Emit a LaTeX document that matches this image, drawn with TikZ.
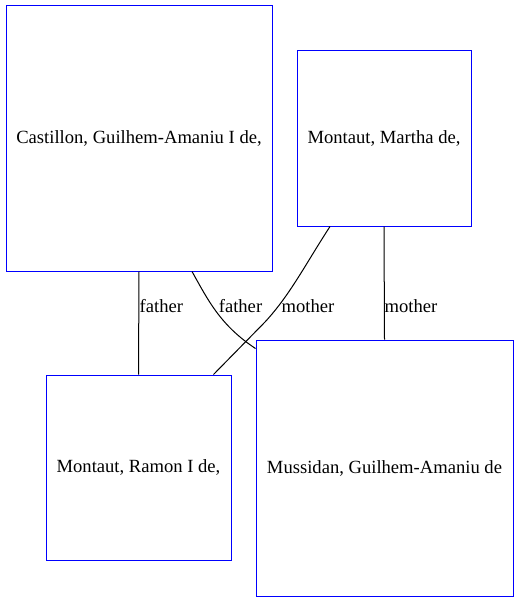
\documentclass[tikz,border=0pt]{standalone}
\usepackage{fontspec}
\setmainfont{Liberation Serif}
\begin{document}
\begin{tikzpicture}[x=1pt,y=-1pt,
  person/.style={draw=blue,line width=1pt,inner sep=0pt,font=\fontsize{18.6}{21}\selectfont},
  rel/.style={draw=black,line width=1pt},
  lbl/.style={inner sep=0pt,font=\fontsize{18.6}{21}\selectfont}]
\useasboundingbox (0,0) rectangle (518,602);
\node[person,minimum width=266pt,minimum height=265pt] (cast) at (139,138.5) {Castillon, Guilhem-Amaniu I de,};
\node[person,minimum width=174pt,minimum height=175pt] (martha) at (384,138.5) {Montaut, Martha de,};
\node[person,minimum width=185pt,minimum height=185pt] (ramon) at (138.5,467.5) {Montaut, Ramon I de,};
\node[person,minimum width=257pt,minimum height=256pt] (muss) at (384.5,468) {Mussidan, Guilhem-Amaniu de};
\draw[rel] (cast.south) -- (ramon.north);
\draw[rel] ([xshift=53pt]cast.south) .. controls (208,300) and (220,325) .. ([yshift=-9pt]muss.north west);
\draw[rel] ([xshift=-54pt]martha.south) .. controls (305,265) and (290,295) .. (265,322) -- ([xshift=168pt]ramon.north west);
\draw[rel] (martha.south) -- (muss.north);
\node[lbl,anchor=west] (l1) at (139.5,306) {father};
\node[lbl] (l2) at (240.5,306) {father};
\node[lbl] (l3) at (308,306) {mother};
\node[lbl,anchor=west] (l4) at (384.5,306) {mother};
\end{tikzpicture}
\end{document}
